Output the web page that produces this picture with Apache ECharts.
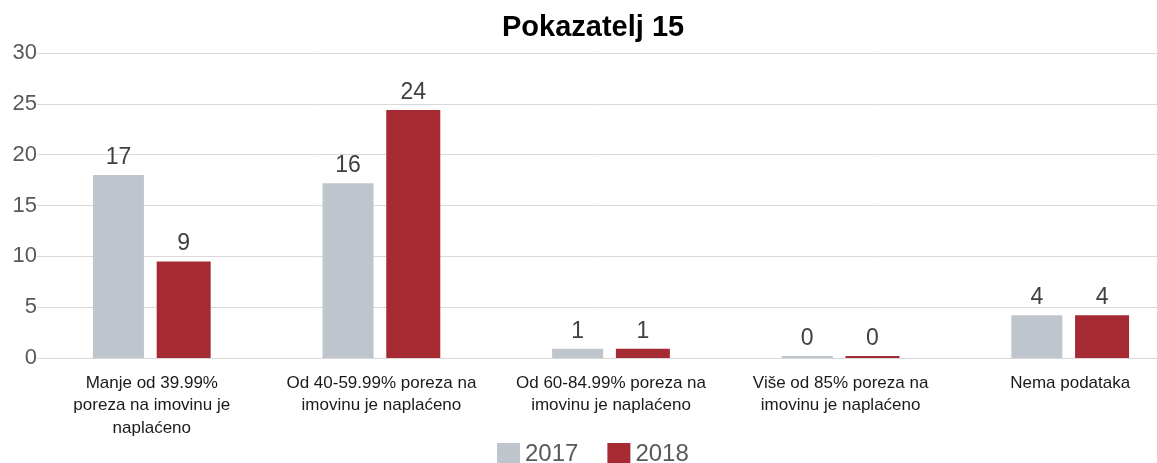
<!DOCTYPE html>
<html>
<head>
<meta charset="utf-8">
<script src="https://cdn.jsdelivr.net/npm/echarts@6/dist/echarts.min.js"></script>
<style>
  html, body { margin: 0; padding: 0; background: #fff; }
  #chart { width: 1157px; height: 463px; }
</style>
</head>
<body>
<div id="chart"></div>
<script>
// kategorije na x osi
const categories = [
  'Manje od 39.99%\nporeza na imovinu je\nnaplaćeno',
  'Od 40-59.99% poreza na\nimovinu je naplaćeno',
  'Od 60-84.99% poreza na\nimovinu je naplaćeno',
  'Više od 85% poreza na\nimovinu je naplaćeno',
  'Nema podataka'
];
// visine stupaca (očitano sa slike) i oznake iznad njih
const values2017 = [18, 17.2, 0.9, 0.2, 4.2];
const values2018 = [9.5, 24.4, 0.9, 0.2, 4.2];
const labels2017 = [17, 16, 1, 0, 4];
const labels2018 = [9, 24, 1, 0, 4];
const yTicks = [0, 5, 10, 15, 20, 25, 30];

const chart = echarts.init(document.getElementById('chart'));

const labelStyle = function(labels) {
  return {
    show: true,
    position: 'top',
    distance: 6,
    fontFamily: 'Liberation Sans',
    fontSize: 23,
    color: '#404040',
    formatter: function(p) { return labels[p.dataIndex]; }
  };
};

chart.setOption({
  animation: false,
  backgroundColor: '#fff',
  title: {
    text: 'Pokazatelj 15',
    left: 497,
    top: 8,
    textStyle: {
      fontFamily: 'Liberation Sans',
      fontWeight: 'bold',
      fontSize: 29,
      color: '#000'
    }
  },
  legend: {
    top: 442,
    left: 497,
    itemWidth: 23,
    itemHeight: 22,
    itemGap: 29,
    padding: 0,
    textStyle: {
      fontFamily: 'Liberation Sans',
      fontSize: 24,
      color: '#595959',
      padding: [3, 0, 0, 0]
    },
    data: [
      { name: '2017', icon: 'rect' },
      { name: '2018', icon: 'rect' }
    ]
  },
  grid: {
    left: 37,
    width: 1148,
    top: 53,
    height: 305,
    outerBoundsMode: 'none'
  },
  xAxis: {
    type: 'category',
    data: categories,
    axisTick: { show: false },
    axisLine: { show: true, lineStyle: { color: '#d9d9d9', width: 1 } },
    axisLabel: {
      interval: 0,
      margin: 14,
      fontFamily: 'Liberation Sans',
      fontSize: 17,
      lineHeight: 22.5,
      color: '#1a1a1a'
    }
  },
  yAxis: {
    type: 'value',
    min: yTicks[0],
    max: yTicks[yTicks.length - 1],
    interval: 5,
    axisLine: { show: false },
    axisTick: { show: false },
    axisLabel: {
      margin: 0,
      fontFamily: 'Liberation Sans',
      fontSize: 22,
      color: '#595959'
    },
    splitLine: { lineStyle: { color: '#d9d9d9', width: 1 } }
  },
  series: [
    {
      name: '2017',
      type: 'bar',
      data: values2017,
      barWidth: 51,
      barGap: '25%',
      itemStyle: { color: '#BFC5CC' },
      label: labelStyle(labels2017)
    },
    {
      name: '2018',
      type: 'bar',
      data: values2018,
      barWidth: 54,
      itemStyle: { color: '#A52A32' },
      label: labelStyle(labels2018)
    }
  ]
});
</script>
</body>
</html>
